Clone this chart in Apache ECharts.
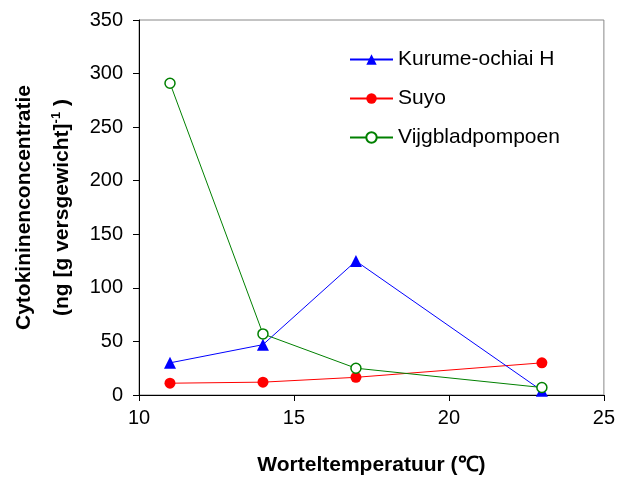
<!DOCTYPE html>
<html><head><meta charset="utf-8">
<script src="https://cdn.jsdelivr.net/npm/echarts@6/dist/echarts.min.js"></script>
<style>html,body{margin:0;padding:0;background:#fff}#c{width:618px;height:481px}</style>
</head><body><div id="c"></div>
<script>
const temps = [11, 14, 17, 23];
const kurume = [30, 47, 125, 4];
const suyo = [11, 12, 16.5, 30];
const vijg = [291, 57, 25, 7];
const seriesNames = ['Kurume-ochiai H', 'Suyo', 'Vijgbladpompoen'];

const chart = echarts.init(document.getElementById('c'), null, {renderer: 'canvas'});
const font = 'Liberation Sans, Arial, sans-serif';
const pair = arr => temps.map((t, i) => [t, arr[i]]);
chart.setOption({
  animation: false,
  textStyle: {fontFamily: font},
  grid: {left: 139, right: 13, top: 20, bottom: 84, show: true, borderColor: '#888', borderWidth: 1},
  legend: {
    orient: 'vertical', left: 344, top: 44, itemGap: 18, itemWidth: 43, itemHeight: 13,
    textStyle: {fontSize: 21, color: '#000', fontFamily: font},
    data: seriesNames
  },
  xAxis: {
    type: 'value', min: 10, max: 25, interval: 5,
    axisLine: {show: true, onZero: false, lineStyle: {color: '#000', width: 1}},
    axisTick: {show: true, length: 6, lineStyle: {color: '#000'}},
    axisLabel: {fontSize: 20, color: '#000', margin: 13},
    splitLine: {show: false},
    name: 'Worteltemperatuur (℃)', nameLocation: 'middle', nameGap: 60,
    nameTextStyle: {fontSize: 21, fontWeight: 'bold', color: '#000'}
  },
  yAxis: {
    type: 'value', min: 0, max: 350, interval: 50,
    axisLine: {show: true, lineStyle: {color: '#000', width: 1}},
    axisTick: {show: true, length: 6, lineStyle: {color: '#000'}},
    axisLabel: {fontSize: 20, color: '#000', margin: 16},
    splitLine: {show: false},
    name: '{a|Cytokininenconcentratie}\n{a|(ng [g versgewicht]}{s|-1}{a| )}',
    nameLocation: 'middle', nameGap: 58,
    nameTextStyle: {
      rich: {
        a: {fontSize: 21, fontWeight: 'bold', color: '#000', lineHeight: 38, fontFamily: font},
        s: {fontSize: 13, fontWeight: 'bold', color: '#000', lineHeight: 26, padding: [0, 0, 12, 0], fontFamily: font}
      }
    }
  },
  series: [
    {name: seriesNames[0], type: 'line', data: pair(kurume), symbol: 'triangle', symbolSize: 12,
     lineStyle: {color: '#0000ff', width: 1}, itemStyle: {color: '#0000ff'}, z: 3},
    {name: seriesNames[1], type: 'line', data: pair(suyo), symbol: 'circle', symbolSize: 11,
     lineStyle: {color: '#ff0000', width: 1}, itemStyle: {color: '#ff0000'}, z: 2},
    {name: seriesNames[2], type: 'line', data: pair(vijg), symbol: 'circle', symbolSize: 10,
     lineStyle: {color: '#008000', width: 1}, itemStyle: {color: '#ffffff', borderColor: '#008000', borderWidth: 1.5}, z: 4}
  ]
});
</script></body></html>
